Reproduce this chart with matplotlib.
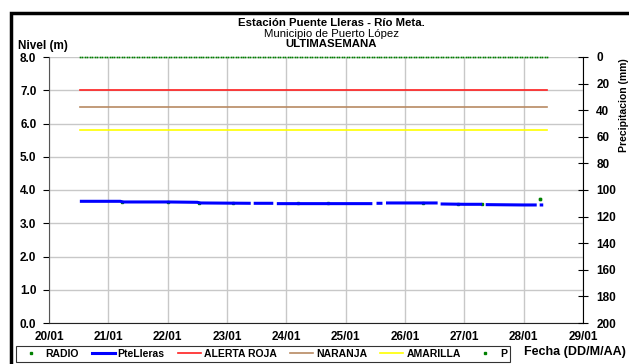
import numpy as np
import matplotlib
matplotlib.use("Agg")
import matplotlib.pyplot as plt
from matplotlib.lines import Line2D
from matplotlib.patches import Rectangle

plt.rcParams['font.family'] = ['Liberation Sans', 'DejaVu Sans']

# ---- data ----
day_ticks = [20, 21, 22, 23, 24, 25, 26, 27, 28, 29]
day_labels = ["20/01", "21/01", "22/01", "23/01", "24/01", "25/01", "26/01", "27/01", "28/01", "29/01"]

nan = np.nan
pte_t = [20.52, 21.20, 21.25, 22.00, 22.50, 22.55, 23.40, nan, 23.45, 23.78, nan, 23.84,
         24.50, 25.00, 25.45, nan, 25.52, 25.62, nan, 25.68, 26.00, 26.55, nan, 26.60,
         27.00, 27.30, nan, 27.36, 28.00, 28.22, nan, 28.27, 28.33]
pte_v = [3.66, 3.66, 3.64, 3.64, 3.63, 3.61, 3.60, nan, 3.60, 3.60, nan, 3.59,
         3.59, 3.59, 3.59, nan, 3.60, 3.60, nan, 3.61, 3.61, 3.61, nan, 3.58,
         3.57, 3.57, nan, 3.56, 3.55, 3.55, nan, 3.55, 3.55]

radio_t = [21.23, 22.00, 22.52, 23.10, 24.20, 24.70, 26.30, 26.90, 27.30, 28.28]
radio_v = [3.65, 3.64, 3.62, 3.61, 3.60, 3.60, 3.61, 3.58, 3.57, 3.72]

thr_t = [20.52, 28.40]
alerta_roja = [7.0, 7.0]
naranja = [6.5, 6.5]
amarilla = [5.8, 5.8]

p_start, p_end = 20.52, 28.40
p_t = np.arange(p_start, p_end, 1.0 / 24)
p_v = [0.0] * len(p_t)

# ---- figure ----
W, H = 629, 364
fig = plt.figure(figsize=(W / 100, H / 100), dpi=100)
fig.patch.set_facecolor('white')

x0, x1 = 49 / W, 583 / W
y_top, y_bot = 1 - 57 / H, 1 - 323 / H
ax = fig.add_axes([x0, y_bot, x1 - x0, y_top - y_bot])
ax2 = ax.twinx()

ax.set_xlim(20, 29)
ax.set_ylim(0, 8)
ax.set_yticks(np.arange(0, 8.01, 1.0))
ax.set_yticklabels([f"{v:.1f}" for v in np.arange(0, 8.01, 1.0)])
ax.set_xticks(day_ticks)
ax.set_xticklabels(day_labels)
ax.grid(True, color='#c8c8c8', lw=1.0)
ax.set_axisbelow(True)

ax.spines['top'].set_visible(False)
ax.spines['left'].set_color('#555555')
ax.spines['bottom'].set_color('#222222')
ax.spines['right'].set_visible(False)
ax2.spines['top'].set_visible(False)
ax2.spines['left'].set_visible(False)
ax2.spines['bottom'].set_visible(False)
ax2.spines['right'].set_color('black')

ax.tick_params(axis='both', labelsize=8.5, length=4, width=0.8, colors='black')
ax.tick_params(axis='x', length=0, pad=6)
ax.tick_params(axis='y', direction='out', pad=5)
for lab in ax.get_xticklabels() + ax.get_yticklabels():
    lab.set_fontweight('bold')

ax2.set_ylim(200, 0)
ax2.set_yticks(np.arange(0, 201, 20))
ax2.tick_params(axis='y', labelsize=8.5, direction='inout', length=7, width=0.8, pad=6)
for lab in ax2.get_yticklabels():
    lab.set_fontweight('bold')

ax.plot(thr_t, alerta_roja, color='#ff2020', lw=1.2, zorder=3)
ax.plot(thr_t, naranja, color='#b88a62', lw=1.2, zorder=3)
ax.plot(thr_t, amarilla, color='#ffff00', lw=1.2, zorder=3)
ax.plot(radio_t, radio_v, linestyle='none', marker='s', ms=1.8, color='#008000', zorder=4)
ax.plot(pte_t, pte_v, color='#0000ff', lw=2.2, zorder=5, solid_capstyle='butt')
ax.plot([radio_t[-1]], [radio_v[-1]], linestyle='none', marker='s', ms=1.8, color='#008000', zorder=6)
ax2.plot(p_t, p_v, linestyle='none', marker='s', ms=1.2, mew=0, color='#008000', clip_on=False, zorder=6)

fig.text(624 / W, 1 - 105 / H, "Precipitacion (mm)", rotation=90,
         ha='center', va='center', fontsize=7.5, fontweight='bold')

# titles
xc = 331 / W
fig.text(xc, 1 - 23 / H, "Estación Puente Lleras - Río Meta.", ha='center', va='center',
         fontsize=8.2, fontweight='bold')
fig.text(xc, 1 - 34 / H, "Municipio de Puerto López", ha='center', va='center', fontsize=8.2)
fig.text(xc, 1 - 44 / H, "ULTIMASEMANA", ha='center', va='center',
         fontsize=8.2, fontweight='bold')
fig.text(18 / W, 1 - 46 / H, "Nivel (m)", ha='left', va='center', fontsize=8.5, fontweight='bold')
fig.text(524 / W, 1 - 352 / H, "Fecha (DD/M/AA)", ha='left', va='center', fontsize=9, fontweight='bold')

# legend
handles = [
    Line2D([], [], linestyle='none', marker='s', ms=2, color='#008000'),
    Line2D([], [], color='#0000ff', lw=2.2),
    Line2D([], [], color='#ff2020', lw=1.2),
    Line2D([], [], color='#b88a62', lw=1.2),
    Line2D([], [], color='#ffff00', lw=1.2),
    Line2D([], [], linestyle='none', marker='s', ms=2, color='#008000'),
]
labels = ["RADIO", "PteLleras", "ALERTA ROJA", "NARANJA", "AMARILLA", "P"]
leg = fig.legend(handles, labels, loc='upper left', ncol=6,
                 bbox_to_anchor=(16 / W, 1 - 346 / H, 494 / W, 0.0), mode='expand',
                 frameon=True, fancybox=False, edgecolor='black',
                 handlelength=2.2, handletextpad=0.3, borderpad=0.3, borderaxespad=0.0,
                 columnspacing=1.0, prop={'weight': 'bold', 'size': 7.5})
leg.get_frame().set_linewidth(0.8)

# outer border
fig.add_artist(Rectangle((11 / W, -0.2), 1.2, 1.2 - 13 / H, transform=fig.transFigure,
                         fill=False, lw=2.5, edgecolor='black'))

fig.savefig("out.png", dpi=100)
